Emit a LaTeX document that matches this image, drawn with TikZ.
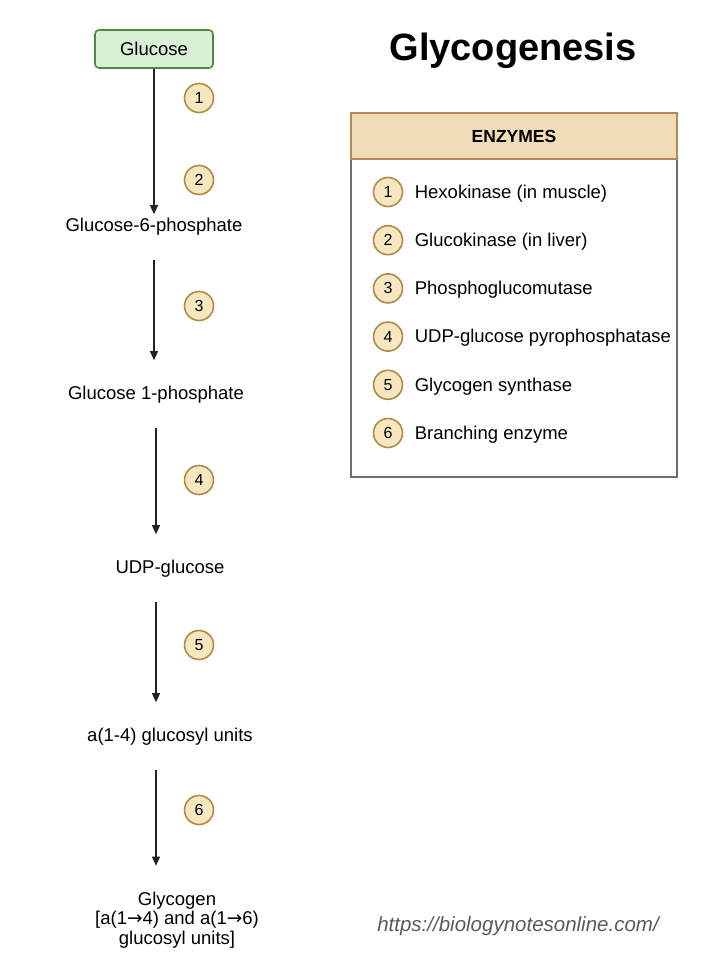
\documentclass[tikz,border=0pt]{standalone}
\usepackage{fontspec}
\setmainfont{Liberation Sans}
\newfontfamily\arrowfont{DejaVu Sans}
\usetikzlibrary{shapes.geometric, arrows.meta, positioning}
\definecolor{glufill}{HTML}{D9EFD6}
\definecolor{gluedge}{HTML}{4E8A3E}
\definecolor{numfill}{HTML}{F6E7BF}
\definecolor{numedge}{HTML}{B08A48}
\definecolor{hdfill}{HTML}{F1DCB8}
\definecolor{hdedge}{HTML}{B5885A}
\definecolor{bdedge}{HTML}{6E6E6E}
\definecolor{arrowgray}{HTML}{222222}
\definecolor{urlgray}{HTML}{5A5A5A}
\newcommand{\bodyfont}{\fontsize{18.5}{19.5}\selectfont}
\newcommand{\titlefont}{\fontsize{38}{40}\selectfont\bfseries}
\newcommand{\ra}{{\arrowfont\fontsize{18.5}{18.5}\selectfont →}}
\tikzstyle{startbox} = [rectangle, rounded corners=4pt, minimum width=118pt, minimum height=38pt, text centered, draw=gluedge, fill=glufill, line width=1.6pt, font=\bodyfont]
\tikzstyle{metab} = [text centered, align=center, inner ysep=4pt, font=\bodyfont]
\tikzstyle{stepnum} = [circle, minimum size=29pt, inner sep=0pt, draw=numedge, fill=numfill, line width=1.6pt, font=\fontsize{16}{16}\selectfont]
\tikzstyle{enzhead} = [rectangle, minimum width=326pt, minimum height=46pt, outer sep=0pt, text centered, draw=hdedge, fill=hdfill, line width=1.3pt, font=\fontsize{17.5}{18}\selectfont\bfseries]
\tikzstyle{enzbody} = [rectangle, minimum width=326pt, minimum height=318pt, outer sep=0pt, draw=bdedge, fill=white, line width=1.3pt]
\tikzstyle{arrow} = [line width=1.3pt, draw=arrowgray, -{Triangle[length=9pt, width=8pt]}]
\tikzstyle{gapped} = [shorten <=20pt, shorten >=22pt]

\begin{document}
\begin{tikzpicture}[x=1pt, y=1pt, node distance=172pt]
\useasboundingbox (0,0) rectangle (715,-973);
% pathway
\node (glc) [startbox] at (154,-49) {Glucose};
\node (g6p) [metab, below of=glc, yshift=-6pt] {Glucose-6-phosphate};
\node (g1p) [metab, below of=g6p, yshift=4pt, xshift=2pt] {Glucose 1-phosphate};
\node (udp) [metab, below of=g1p, yshift=-2pt, xshift=14pt] {UDP-glucose};
\node (a14) [metab, below of=udp, yshift=4pt] {a(1-4) glucosyl units};
\node (gly) [metab, below of=a14, yshift=-11pt, xshift=7pt] {Glycogen\\{[}a(1\ra4) and a(1\ra6)\\glucosyl units]};
\draw [arrow] (glc) -- (g6p);
\draw [arrow, gapped] (g6p) -- (g6p |- g1p.north);
\draw [arrow, gapped] (g1p) -- (g1p |- udp.north);
\draw [arrow, gapped] (g1p |- udp.south) -- (g1p |- a14.north);
\draw [arrow, gapped] (g1p |- a14.south) -- (g1p |- gly.north);
% step numbers
\node (s1) [stepnum] at (199,-98) {1};
\node (s2) [stepnum] at (199,-180) {2};
\node (s3) [stepnum] at (199,-306) {3};
\node (s4) [stepnum] at (199,-480) {4};
\node (s5) [stepnum] at (199,-645) {5};
\node (s6) [stepnum] at (199,-810) {6};
% enzymes panel
\node (title) [font=\titlefont] at (513,-51) {Glycogenesis};
\node (enzbd) [enzbody] at (514,-318) {};
\node (enzhd) [enzhead, above=0pt of enzbd] {ENZYMES};
\foreach \i/\name in {1/Hexokinase (in muscle), 2/Glucokinase (in liver), 3/Phosphoglucomutase, 4/UDP-glucose pyrophosphatase, 5/Glycogen synthase, 6/Branching enzyme} {
  \node (e\i) [stepnum] at (388,-143.8-48.2*\i) {\i};
  \node (t\i) [right=8pt of e\i, yshift=-1.5pt, font=\bodyfont] {\name};
}
\node (url) [font=\fontsize{20.5}{21}\selectfont\itshape, text=urlgray] at (518,-926) {https://biologynotesonline.com/};
\end{tikzpicture}
\end{document}
